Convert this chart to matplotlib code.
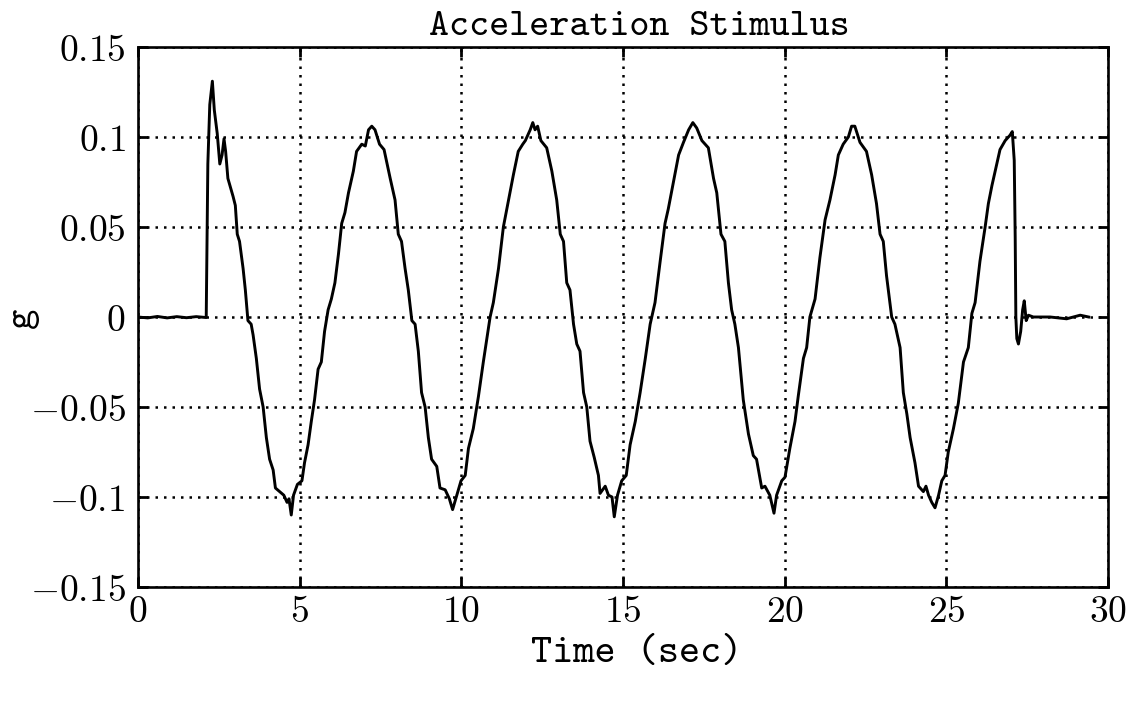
import matplotlib
matplotlib.use("Agg")
import matplotlib.pyplot as plt

# time (sec) and acceleration (g)
t = [0.0, 0.3, 0.6, 0.9, 1.2, 1.5, 1.8, 2.11, 2.16, 2.22, 2.30, 2.36, 2.45, 2.53,
     2.60, 2.66, 2.71, 2.78, 2.94, 3.01, 3.07, 3.14, 3.25, 3.32, 3.40, 3.50, 3.56,
     3.66, 3.76, 3.87, 3.97, 4.07, 4.18, 4.25, 4.38, 4.51, 4.61, 4.67, 4.74, 4.81,
     4.93, 5.07, 5.15, 5.26, 5.36, 5.46, 5.57, 5.67, 5.77, 5.88, 5.98, 6.09, 6.20,
     6.30, 6.40, 6.51, 6.66, 6.76, 6.92, 7.03, 7.13, 7.23, 7.33, 7.47, 7.61, 7.80,
     7.95, 8.05, 8.15, 8.26, 8.36, 8.47, 8.57, 8.67, 8.77, 8.88, 8.98, 9.08, 9.24,
     9.34, 9.50, 9.63, 9.73, 9.86, 9.99, 10.12, 10.22, 10.37, 10.53, 10.68, 10.89,
     10.99, 11.15, 11.30, 11.46, 11.61, 11.76, 11.90, 11.98, 12.13, 12.21, 12.28,
     12.36, 12.46, 12.64, 12.80, 12.95, 13.06, 13.16, 13.26, 13.36, 13.47, 13.57,
     13.67, 13.78, 13.88, 13.98, 14.11, 14.24, 14.29, 14.45, 14.55, 14.66, 14.73,
     14.83, 14.96, 15.10, 15.22, 15.38, 15.53, 15.69, 15.84, 15.99, 16.15, 16.30,
     16.40, 16.56, 16.72, 16.87, 17.03, 17.16, 17.28, 17.44, 17.64, 17.80, 17.90,
     18.03, 18.15, 18.26, 18.36, 18.46, 18.57, 18.72, 18.88, 19.03, 19.13, 19.29,
     19.39, 19.54, 19.67, 19.75, 19.91, 20.01, 20.16, 20.32, 20.42, 20.58, 20.68,
     20.78, 20.94, 21.09, 21.25, 21.40, 21.56, 21.66, 21.81, 21.97, 22.07, 22.17,
     22.33, 22.53, 22.69, 22.84, 22.95, 23.05, 23.15, 23.31, 23.41, 23.57, 23.67,
     23.78, 23.88, 24.03, 24.14, 24.29, 24.37, 24.45, 24.55, 24.65, 24.76, 24.86,
     24.96, 25.06, 25.22, 25.37, 25.53, 25.68, 25.79, 25.89, 26.04, 26.20, 26.30,
     26.41, 26.56, 26.66, 26.82, 26.97, 27.04, 27.10, 27.13, 27.15, 27.18, 27.23,
     27.30, 27.36, 27.41, 27.47, 27.54, 27.69, 28.21, 28.72, 29.14, 29.40]
g = [0.0, -0.0005, 0.0003, -0.0005, 0.0002, -0.0004, 0.0002, -0.0003, 0.085, 0.118,
     0.131, 0.115, 0.102, 0.085, 0.090, 0.099, 0.092, 0.077, 0.067, 0.062, 0.046,
     0.042, 0.027, 0.015, -0.002, -0.004, -0.010, -0.023, -0.040, -0.050, -0.067,
     -0.079, -0.085, -0.095, -0.097, -0.099, -0.103, -0.101, -0.110, -0.099, -0.093,
     -0.091, -0.081, -0.071, -0.058, -0.046, -0.029, -0.025, -0.008, 0.004, 0.010,
     0.019, 0.035, 0.052, 0.058, 0.069, 0.081, 0.092, 0.096, 0.095, 0.104, 0.106,
     0.104, 0.096, 0.093, 0.077, 0.065, 0.046, 0.042, 0.027, 0.015, -0.002, -0.004,
     -0.019, -0.042, -0.050, -0.067, -0.079, -0.083, -0.095, -0.096, -0.101, -0.107,
     -0.099, -0.091, -0.088, -0.073, -0.062, -0.044, -0.025, 0.000, 0.008, 0.027,
     0.050, 0.065, 0.079, 0.092, 0.096, 0.098, 0.104, 0.108, 0.104, 0.106, 0.098,
     0.094, 0.081, 0.065, 0.046, 0.042, 0.019, 0.015, -0.004, -0.015, -0.019, -0.042,
     -0.050, -0.069, -0.078, -0.088, -0.098, -0.094, -0.099, -0.100, -0.111, -0.099,
     -0.091, -0.088, -0.071, -0.058, -0.042, -0.023, -0.004, 0.008, 0.031, 0.052,
     0.060, 0.075, 0.090, 0.097, 0.104, 0.108, 0.105, 0.098, 0.094, 0.077, 0.069,
     0.046, 0.042, 0.019, 0.004, -0.004, -0.017, -0.046, -0.065, -0.077, -0.079,
     -0.095, -0.094, -0.099, -0.109, -0.099, -0.091, -0.089, -0.073, -0.058, -0.044,
     -0.023, -0.017, 0.000, 0.010, 0.033, 0.054, 0.065, 0.079, 0.090, 0.096, 0.100,
     0.106, 0.106, 0.097, 0.092, 0.079, 0.063, 0.046, 0.042, 0.023, 0.000, -0.004,
     -0.017, -0.042, -0.054, -0.067, -0.081, -0.094, -0.097, -0.094, -0.099, -0.103,
     -0.106, -0.099, -0.091, -0.088, -0.075, -0.062, -0.048, -0.025, -0.017, 0.002,
     0.008, 0.031, 0.050, 0.063, 0.073, 0.085, 0.093, 0.098, 0.101, 0.103, 0.087,
     0.044, 0.000, -0.012, -0.015, -0.008, 0.004, 0.009, -0.002, 0.001, 0.000, 0.000,
     -0.001, 0.001, 0.000]

xticks = [0, 5, 10, 15, 20, 25, 30]
xtick_labels = ['$0$', '$5$', '$10$', '$15$', '$20$', '$25$', '$30$']
yticks = [-0.15, -0.1, -0.05, 0, 0.05, 0.1, 0.15]
ytick_labels = ['$-0.15$', '$-0.1$', '$-0.05$', '$0$', '$0.05$', '$0.1$', '$0.15$']

plt.rcParams['mathtext.fontset'] = 'cm'

fig = plt.figure(figsize=(11.34, 7.11), dpi=100)
W, H = 1134, 711
ax = fig.add_axes([138 / W, 1 - 587 / H, 970 / W, 540 / H])

ax.plot(t, g, color='black', linewidth=2.1, solid_joinstyle='round')

ax.set_xlim(0, 30)
ax.set_ylim(-0.15, 0.15)
ax.set_xticks(xticks, xtick_labels)
ax.set_yticks(yticks, ytick_labels)
ax.tick_params(direction='in', length=7, width=2, labelsize=27,
               top=True, right=True, pad=9)
ax.tick_params(axis='x', pad=5)
ax.grid(True, color='black', linestyle=(0, (1, 2.4)), linewidth=1.8)
for s in ax.spines.values():
    s.set_linewidth(1.9)

# title and labels in a typewriter face, as on the original printout
fig.text(639 / W, 1 - 35 / H, 'Acceleration Stimulus', family='cmtt10',
         fontsize=27.5, ha='center', va='baseline')
fig.text(637 / W, 1 - 654 / H, 'Time (sec)', family='cmtt10',
         fontsize=29, ha='center', va='center')
fig.text(22 / W, 1 - 318 / H, 'g', family='cmtt10', fontsize=28,
         rotation=90, ha='center', va='center')

fig.savefig('out.png', dpi=100)
